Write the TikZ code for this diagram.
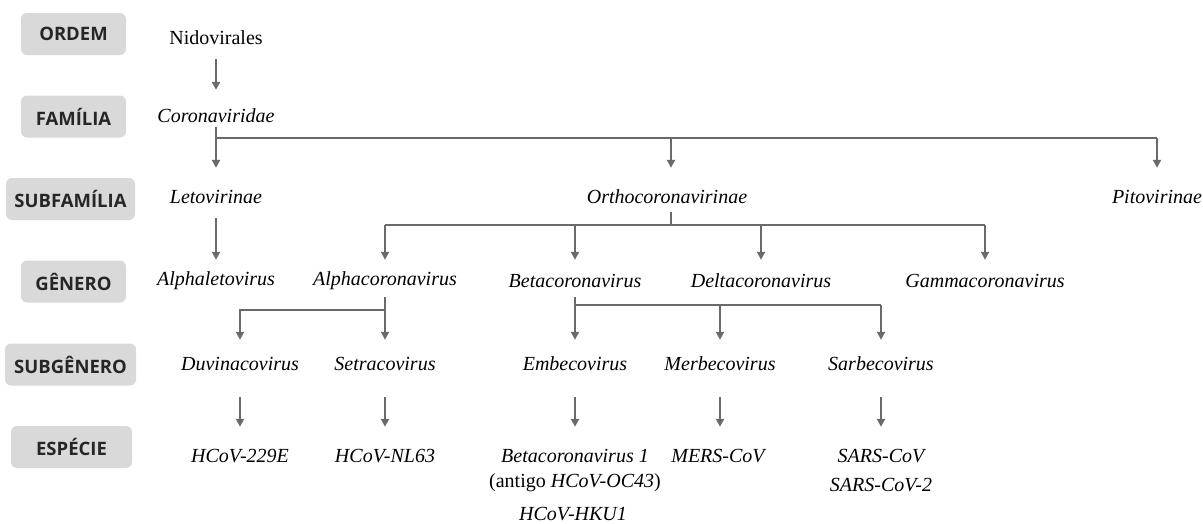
\documentclass[tikz,border=0pt]{standalone}
\usepackage{fontspec}
\setmainfont{Liberation Serif}
\newfontfamily\boxfont{Open Sans}
\usetikzlibrary{arrows.meta}
\definecolor{boxgray}{HTML}{D9D9D9}
\definecolor{linegray}{HTML}{6A6A6A}
\definecolor{boxtext}{HTML}{262626}
\tikzset{
  rank/.style={fill=boxgray, rounded corners=6pt, minimum height=42pt, inner sep=0pt,
    font=\boxfont\bfseries\fontsize{18.5}{20}\selectfont, text=boxtext},
  tx/.style={inner sep=0pt, minimum height=42pt, font=\fontsize{20}{22}\selectfont},
  ln/.style={draw=linegray, line width=2.3pt},
  arr/.style={ln, -{Triangle[length=8pt,width=8pt]}},
}
\begin{document}
\begin{tikzpicture}[x=1pt,y=-1pt]
\useasboundingbox (0,0) rectangle (1203,523);
% rank boxes
\node[rank, minimum width=105pt] (r1) at (73.5,34) {ORDEM};
\node[rank, minimum width=105pt] (r2) at (73.5,116.5) {FAMÍLIA};
\node[rank, minimum width=129pt] (r3) at (70.5,199) {SUBFAMÍLIA};
\node[rank, minimum width=105pt] (r4) at (73.5,281.5) {GÊNERO};
\node[rank, minimum width=131pt] (r5) at (70.5,364.5) {SUBGÊNERO};
\node[rank, minimum width=121pt] (r6) at (71.5,447) {ESPÉCIE};
% taxa
\node[tx] (nido) at (216,38) {Nidovirales};
\node[tx] (corona) at (216,116) {\itshape Coronaviridae};
\node[tx] (leto) at (216,197) {\itshape Letovirinae};
\node[tx] (ortho) at (667,197) {\itshape Orthocoronavirinae};
\node[tx] (pito) at (1157,197) {\itshape Pitovirinae};
\node[tx] (alphaleto) at (216,281) {\itshape Alphaletovirus};
\node[tx] (alphac) at (385,281) {\itshape Alphacoronavirus};
\node[tx] (beta) at (575,281) {\itshape Betacoronavirus};
\node[tx] (delta) at (761,281) {\itshape Deltacoronavirus};
\node[tx] (gamma) at (985,281) {\itshape Gammacoronavirus};
\node[tx] (duvina) at (240,364) {\itshape Duvinacovirus};
\node[tx] (setra) at (385,364) {\itshape Setracovirus};
\node[tx] (embe) at (575,364) {\itshape Embecovirus};
\node[tx] (merbe) at (720,364) {\itshape Merbecovirus};
\node[tx] (sarbe) at (881,364) {\itshape Sarbecovirus};
\node[tx] (hcov229) at (240,456) {\itshape HCoV-229E};
\node[tx] (nl63) at (385,456) {\itshape HCoV-NL63};
\node[tx] (betaone) at (575,456) {\itshape Betacoronavirus 1};
\node[tx] (antigo) at (575,483) {(antigo \textit{HCoV-OC43})};
\node[tx] (hku1) at (573,514) {\itshape HCoV-HKU1};
\node[tx] (mers) at (718,456) {\itshape MERS-CoV};
\node[tx] (sars) at (881,456) {\itshape SARS-CoV};
\node[tx] (sars2) at (881,485) {\itshape SARS-CoV-2};
% junctions
\coordinate (jc) at (216,138);
\coordinate (jo) at (671,225);
\coordinate (ja) at (385,310);
\coordinate (jb) at (575,305);
% connectors
\draw[arr, shorten >=5pt] (nido.south) -- (corona.north);
\draw[arr, shorten >=8pt] ([yshift=-11pt]corona.center) -- (leto.north);
\draw[ln] (jc) -- (jc -| pito.north);
\draw[arr, shorten >=8pt] (jc -| jo) -- (ortho.north -| jo);
\draw[arr, shorten >=8pt] (jc -| pito.north) -- (pito.north);
\draw[arr] (leto.south) -- (alphaleto.north);
\draw[ln] ([yshift=-15pt]ortho.center -| jo) -- (jo);
\draw[ln] (jo -| alphac.north) -- (jo -| gamma.north);
\draw[arr] (jo -| alphac.north) -- (alphac.north);
\draw[arr] (jo -| beta.north) -- (beta.north);
\draw[arr] (jo -| delta.north) -- (delta.north);
\draw[arr] (jo -| gamma.north) -- (gamma.north);
\draw[arr, shorten >=3pt] ([yshift=-16pt]alphac.center) -- (setra.north);
\draw[arr, shorten >=3pt] (ja) -| (duvina.north);
\draw[arr, shorten >=3pt] ([yshift=-16pt]beta.center) -- (embe.north);
\draw[ln] (jb) -- (jb -| sarbe.north);
\draw[arr, shorten >=3pt] (jb -| merbe.north) -- (merbe.north);
\draw[arr, shorten >=3pt] (jb -| sarbe.north) -- (sarbe.north);
\draw[arr, shorten <=12pt, shorten >=8pt] (duvina.south) -- (hcov229.north);
\draw[arr, shorten <=12pt, shorten >=8pt] (setra.south) -- (nl63.north);
\draw[arr, shorten <=12pt, shorten >=8pt] (embe.south) -- (betaone.north);
\draw[arr, shorten <=12pt, shorten >=8pt] (merbe.south) -- (merbe.south |- mers.north);
\draw[arr, shorten <=12pt, shorten >=8pt] (sarbe.south) -- (sars.north);
\end{tikzpicture}
\end{document}
